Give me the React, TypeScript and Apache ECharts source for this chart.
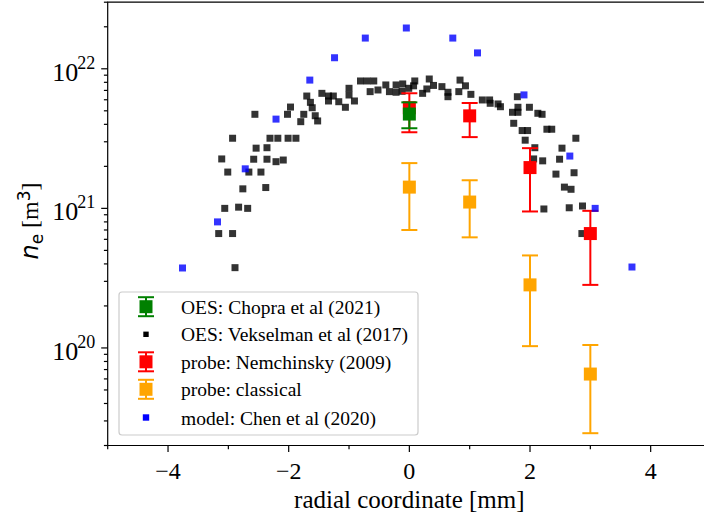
import React, { useEffect, useRef } from "react";
import * as echarts from "echarts";

// ---- axis ranges & ticks ----
const X_MIN = -5;
const X_MAX = 5;
const Y_MIN = 2e19;
const Y_MAX = 3e22;
const xMajorTicks = [-4, -2, 0, 2, 4];
const xMinorTicks = [-5, -3, -1, 1, 3, 5];
const yMajorExps = [20, 21, 22];
const yMinorDecades = [19, 20, 21, 22];
const yMinorSubs = [2, 3, 4, 5, 6, 7, 8, 9];

// ---- legend labels ----
const legendLabels = [
  "OES: Chopra et al (2021)",
  "OES: Vekselman et al (2017)",
  "probe: Nemchinsky (2009)",
  "probe: classical",
  "model: Chen et al (2020)",
];

// ---- data: [x (mm), n_e (m^-3)] ----
const vekselman: [number, number][] = [
  [-3.16, 6.6e20], [-2.93, 6.6e20], [-2.89, 3.76e20],
  [-3.06, 1.0e21], [-2.83, 1.02e21], [-2.68, 1.0e21],
  [-2.76, 1.38e21], [-2.38, 1.41e21],
  [-3.01, 1.82e21], [-2.66, 1.82e21], [-2.46, 1.82e21],
  [-3.11, 2.26e21], [-2.58, 2.25e21], [-2.36, 2.25e21], [-2.21, 2.16e21], [-2.09, 2.22e21],
  [-2.54, 2.7e21], [-2.36, 2.72e21],
  [-2.93, 3.18e21], [-2.31, 3.18e21], [-2.18, 3.18e21], [-2.01, 3.18e21], [-1.88, 3.18e21],
  [-2.56, 4.72e21], [-2.02, 4.72e21], [-1.97, 5.32e21], [-1.8, 4.18e21], [-1.75, 4.72e21],
  [-1.7, 6.38e21], [-1.64, 5.75e21], [-1.61, 5.26e21], [-1.56, 4.61e21], [-1.52, 4.23e21],
  [-1.45, 6.67e21], [-1.34, 6.38e21], [-1.26, 6.38e21], [-1.34, 5.88e21], [-1.17, 5.81e21],
  [-1.06, 5.3e21], [-1.0, 7.25e21], [-1.0, 6.49e21], [-0.91, 5.88e21],
  [-0.81, 8.18e21], [-0.7, 8.18e21], [-0.59, 8.18e21], [-0.65, 6.86e21], [-0.52, 7.05e21],
  [-0.39, 7.66e21], [-0.33, 6.86e21], [-0.22, 7.66e21], [-0.22, 6.79e21], [-0.11, 7.79e21],
  [-0.12, 6.9e21], [-0.01, 7.25e21],
  [0.09, 8.18e21], [0.07, 7.55e21], [0.22, 6.67e21], [0.29, 7.17e21], [0.33, 8.45e21],
  [0.4, 7.6e21], [0.54, 7.45e21], [0.64, 6.79e21], [0.64, 6.31e21], [0.82, 6.86e21],
  [0.84, 8.3e21], [0.93, 7.55e21], [1.02, 6.56e21], [1.21, 5.98e21], [1.33, 5.98e21],
  [1.34, 5.66e21], [1.47, 5.6e21], [1.51, 5.35e21], [1.71, 4.88e21], [1.8, 4.88e21],
  [1.8, 5.3e21], [1.79, 6.31e21], [1.99, 5.3e21], [2.13, 4.8e21], [2.2, 4.72e21],
  [1.73, 4.07e21], [1.87, 3.61e21], [1.96, 3.61e21], [1.92, 3.08e21], [2.08, 2.72e21],
  [2.06, 2.26e21], [2.21, 2.19e21], [2.28, 3.69e21], [2.36, 3.69e21], [2.76, 3.18e21],
  [2.53, 2.7e21], [2.49, 2.25e21], [2.43, 1.76e21], [2.73, 1.8e21], [2.57, 1.42e21],
  [2.68, 1.37e21], [2.23, 9.9e20], [2.65, 1.01e21], [2.87, 1.04e21], [2.86, 6.6e20],
];

const chen: [number, number][] = [
  [-3.76, 3.74e20], [-3.18, 8.0e20], [-2.72, 1.92e21], [-2.21, 4.36e21],
  [-1.65, 8.3e21], [-1.24, 1.2e22], [-0.73, 1.66e22], [-0.05, 1.96e22],
  [0.72, 1.66e22], [1.13, 1.3e22], [1.9, 6.5e21], [2.66, 2.37e21],
  [3.08, 1.0e21], [3.69, 3.8e20],
];

// [x, value, lower, upper]
const chopra: [number, number, number, number][] = [[0, 4.74e21, 3.75e21, 5.75e21]];
const nemchinsky: [number, number, number, number][] = [
  [0, 5.26e21, 3.51e21, 6.68e21],
  [1, 4.6e21, 3.24e21, 5.69e21],
  [2, 1.96e21, 9.5e20, 2.7e21],
  [3, 6.6e20, 2.83e20, 9.6e20],
];
const classical: [number, number, number, number][] = [
  [0, 1.42e21, 7.0e20, 2.11e21],
  [1, 1.11e21, 6.2e20, 1.59e21],
  [2, 2.83e20, 1.03e20, 4.6e20],
  [3, 6.5e19, 2.45e19, 1.05e20],
];

const SERIF = "'Liberation Serif', 'Times New Roman', serif";
const GREEN = "#008000";
const RED = "#ff0000";
const ORANGE = "#ffa500";
const BLUE = "#0000ff";

function errorRender(color: string) {
  return (params: any, api: any) => {
    const x = api.value(0);
    const c = api.coord([x, api.value(1)]);
    const lo = api.coord([x, api.value(2)]);
    const hi = api.coord([x, api.value(3)]);
    const cap = 8;
    const half = 6.5;
    const ls = { stroke: color, lineWidth: 2 };
    return {
      type: "group",
      children: [
        { type: "line", shape: { x1: c[0], y1: hi[1], x2: c[0], y2: lo[1] }, style: ls },
        { type: "line", shape: { x1: c[0] - cap, y1: hi[1], x2: c[0] + cap, y2: hi[1] }, style: ls },
        { type: "line", shape: { x1: c[0] - cap, y1: lo[1], x2: c[0] + cap, y2: lo[1] }, style: ls },
        { type: "rect", shape: { x: c[0] - half, y: c[1] - half, width: half * 2, height: half * 2 }, style: { fill: color } },
      ],
    };
  };
}

function tickRender(params: any, api: any) {
  const children: any[] = [];
  const origin = api.coord([X_MIN, Y_MIN]);
  const ax = origin[0];
  const ay = origin[1];
  const ts = { stroke: "#000", lineWidth: 1.2 };
  xMajorTicks.forEach((v) => {
    const p = api.coord([v, Y_MIN]);
    children.push({ type: "line", shape: { x1: p[0], y1: ay, x2: p[0], y2: ay + 6.5 }, style: ts });
  });
  xMinorTicks.forEach((v) => {
    const p = api.coord([v, Y_MIN]);
    children.push({ type: "line", shape: { x1: p[0], y1: ay, x2: p[0], y2: ay + 3.8 }, style: ts });
  });
  yMajorExps.forEach((e) => {
    const p = api.coord([X_MIN, Math.pow(10, e)]);
    children.push({ type: "line", shape: { x1: ax - 6.5, y1: p[1], x2: ax, y2: p[1] }, style: ts });
    children.push({
      type: "text",
      x: ax - 29.5,
      y: p[1] + 3.3,
      style: { text: "10", fill: "#000", font: "26px " + SERIF, align: "right", verticalAlign: "middle" },
    });
    children.push({
      type: "text",
      x: ax - 30.5,
      y: p[1] - 6,
      style: { text: String(e), fill: "#000", font: "18px " + SERIF, align: "left", verticalAlign: "middle" },
    });
  });
  yMinorDecades.forEach((d) => {
    yMinorSubs.forEach((k) => {
      const v = k * Math.pow(10, d);
      if (v < Y_MIN * 0.999 || v > Y_MAX * 1.001) return;
      const p = api.coord([X_MIN, v]);
      children.push({ type: "line", shape: { x1: ax - 3.8, y1: p[1], x2: ax, y2: p[1] }, style: ts });
    });
  });
  return { type: "group", children };
}

function legendGraphic() {
  const boxX = 119;
  const boxY = 292;
  const rowY = [306.7, 334.3, 361.8, 389.3, 417.5];
  const iconX = 146;
  const els: any[] = [
    {
      type: "rect",
      shape: { x: boxX, y: boxY, width: 299, height: 143, r: 3 },
      style: { fill: "rgba(255,255,255,0.85)", stroke: "#cccccc", lineWidth: 1.2 },
    },
  ];
  const errIcon = (cy: number, color: string) => {
    const ls = { stroke: color, lineWidth: 2 };
    return [
      { type: "line", shape: { x1: iconX, y1: cy - 9.5, x2: iconX, y2: cy + 9.5 }, style: ls },
      { type: "line", shape: { x1: iconX - 8, y1: cy - 9.5, x2: iconX + 8, y2: cy - 9.5 }, style: ls },
      { type: "line", shape: { x1: iconX - 8, y1: cy + 9.5, x2: iconX + 8, y2: cy + 9.5 }, style: ls },
      { type: "rect", shape: { x: iconX - 6.5, y: cy - 6.5, width: 13, height: 13 }, style: { fill: color } },
    ];
  };
  els.push(...errIcon(rowY[0], GREEN));
  els.push({ type: "rect", shape: { x: iconX - 2.7, y: rowY[1] - 2.7, width: 5.4, height: 5.4 }, style: { fill: "#000" } });
  els.push(...errIcon(rowY[2], RED));
  els.push(...errIcon(rowY[3], ORANGE));
  els.push({ type: "rect", shape: { x: iconX - 3.2, y: rowY[4] - 3.2, width: 6.4, height: 6.4 }, style: { fill: BLUE } });
  legendLabels.forEach((t, i) => {
    els.push({
      type: "text",
      x: 181,
      y: rowY[i] + 0.5,
      style: { text: t, fill: "#000", font: "19.5px " + SERIF, align: "left", verticalAlign: "middle" },
    });
  });
  return els.map((e) => ({ ...e, z: 20 }));
}

export default function App() {
  const ref = useRef<HTMLDivElement>(null);
  useEffect(() => {
    document.body.style.margin = "0";
    if (!ref.current) return;
    const chart = echarts.init(ref.current, undefined, { renderer: "svg" });
    const option: any = {
      animation: false,
      backgroundColor: "#fff",
      grid: {
        left: 107.7,
        top: 2.2,
        width: 605.8,
        height: 443.3,
        show: true,
        borderColor: "#000",
        borderWidth: 1.2,
        backgroundColor: "transparent",
      },
      xAxis: {
        type: "value",
        min: X_MIN,
        max: X_MAX,
        interval: 1,
        axisLine: { show: false },
        axisTick: { show: false },
        splitLine: { show: false },
        axisLabel: {
          margin: 13,
          fontSize: 24,
          fontFamily: SERIF,
          color: "#000",
          formatter: (v: number) => (Math.abs(v % 2) < 1e-9 ? (v < 0 ? "\u2212" + -v : String(v)) : ""),
        },
        name: "radial coordinate [mm]",
        nameLocation: "middle",
        nameGap: 41,
        nameTextStyle: { fontSize: 25, fontFamily: SERIF, color: "#000" },
      },
      yAxis: {
        type: "log",
        logBase: 10,
        min: Y_MIN,
        max: Y_MAX,
        axisLine: { show: false },
        axisTick: { show: false },
        axisLabel: { show: false },
        splitLine: { show: false },
      },
      graphic: [
        {
          type: "text",
          x: 30,
          y: 221,
          rotation: Math.PI / 2,
          z: 20,
          style: {
            text: "{n|n}{e|e}{t| [m}{s|3}{t|]}",
            align: "center",
            verticalAlign: "middle",
            rich: {
              n: { fontFamily: "DejaVu Sans", fontStyle: "italic", fontSize: 24, lineHeight: 30, fill: "#000" },
              e: { fontFamily: "DejaVu Sans", fontSize: 17, lineHeight: 17, verticalAlign: "bottom", fill: "#000" },
              t: { fontFamily: SERIF, fontSize: 24, lineHeight: 30, fill: "#000" },
              s: { fontFamily: "DejaVu Sans", fontSize: 17, lineHeight: 17, verticalAlign: "top", fill: "#000" },
            },
          },
        },
        ...legendGraphic(),
      ],
      series: [
        {
          name: legendLabels[1],
          type: "scatter",
          symbol: "rect",
          symbolSize: 7,
          itemStyle: { color: "#000" },
          data: vekselman,
          z: 2,
        },
        {
          name: legendLabels[2],
          type: "custom",
          renderItem: errorRender(RED),
          encode: { x: 0, y: 1 },
          data: nemchinsky,
          z: 3,
        },
        {
          name: legendLabels[3],
          type: "custom",
          renderItem: errorRender(ORANGE),
          encode: { x: 0, y: 1 },
          data: classical,
          z: 3,
        },
        {
          name: legendLabels[0],
          type: "custom",
          renderItem: errorRender(GREEN),
          encode: { x: 0, y: 1 },
          data: chopra,
          z: 4,
        },
        {
          name: legendLabels[4],
          type: "scatter",
          symbol: "rect",
          symbolSize: 7,
          itemStyle: { color: BLUE },
          data: chen,
          z: 5,
        },
        {
          type: "custom",
          renderItem: tickRender,
          data: [[0, 1e21]],
          encode: { x: 0, y: 1 },
          clip: false,
          silent: true,
          z: 10,
        },
      ],
    };
    chart.setOption(option);
    return () => chart.dispose();
  }, []);
  return (
    <div style={{ width: 704, height: 518, overflow: "hidden", position: "relative", background: "#fff" }}>
      <div ref={ref} style={{ width: 714, height: 518 }} />
    </div>
  );
}
